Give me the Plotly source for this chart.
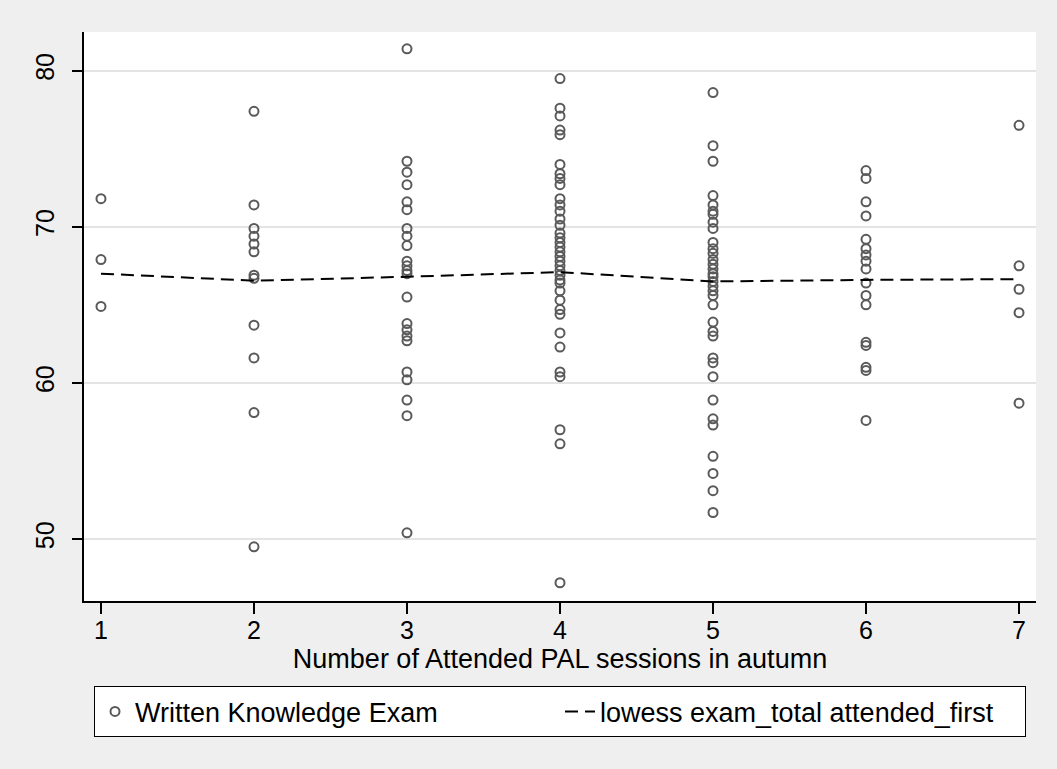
import plotly.graph_objects as go

# Sessions attended (x categories) and exam scores
sessions = [1, 2, 3, 4, 5, 6, 7]

scores_1 = [71.8, 67.9, 64.9]
scores_2 = [77.4, 71.4, 69.9, 69.4, 68.9, 68.4, 66.9, 66.7, 63.7, 61.6, 58.1, 49.5]
scores_3 = [81.4, 74.2, 73.5, 72.7, 71.6, 71.1, 69.9, 69.4, 68.8, 67.8, 67.5, 67.2,
            67.0, 65.5, 63.8, 63.4, 63.0, 62.7, 60.7, 60.2, 58.9, 57.9, 50.4]
scores_4 = [79.5, 77.6, 77.1, 76.2, 75.9, 74.0, 73.4, 73.1, 72.7, 71.8, 71.4, 71.0,
            70.5, 70.1, 69.6, 69.3, 69.0, 68.7, 68.4, 68.1, 67.8, 67.5, 67.2, 66.9,
            66.6, 66.4, 65.9, 65.3, 64.7, 64.4, 63.2, 62.3, 60.7, 60.4, 57.0, 56.1, 47.2]
scores_5 = [78.6, 75.2, 74.2, 72.0, 71.4, 71.0, 70.8, 70.3, 69.9, 69.0, 68.6, 68.3,
            67.9, 67.6, 67.3, 67.0, 66.8, 66.5, 66.2, 65.9, 65.6, 65.0, 63.9, 63.3,
            63.0, 61.6, 61.3, 60.4, 58.9, 57.7, 57.3, 55.3, 54.2, 53.1, 51.7]
scores_6 = [73.6, 73.1, 71.6, 70.7, 69.2, 68.6, 68.2, 67.8, 67.3, 66.4, 65.6, 65.0,
            62.6, 62.4, 61.0, 60.8, 57.6]
scores_7 = [76.5, 67.5, 66.0, 64.5, 58.7]

lowess_values = [67.0, 66.55, 66.8, 67.1, 66.5, 66.6, 66.65]

y_ticks = [50, 60, 70, 80]

columns = [scores_1, scores_2, scores_3, scores_4, scores_5, scores_6, scores_7]
xs, ys = [], []
for s, col in zip(sessions, columns):
    xs += [s] * len(col)
    ys += col

FONT = "Helvetica, Liberation Sans, Arial, sans-serif"
FS_TICK = 25
FS_TEXT = 27

fig = go.Figure()
fig.add_trace(go.Scatter(
    x=xs, y=ys, mode="markers", name="Written Knowledge Exam",
    marker=dict(symbol="circle-open", size=9, color="#5a5a5a",
                line=dict(width=2, color="#5a5a5a")),
))
fig.add_trace(go.Scatter(
    x=sessions, y=lowess_values, mode="lines",
    name="lowess exam_total attended_first",
    line=dict(color="black", width=2, dash="13px,7px"),
))

fig.update_layout(
    width=1057, height=769, autosize=False,
    paper_bgcolor="#efefef", plot_bgcolor="white",
    margin=dict(l=84, r=21, t=32, b=168),
    font=dict(family=FONT, size=FS_TEXT, color="black"),
    showlegend=True,
    legend=dict(
        orientation="h", x=0.5, xanchor="center", y=-0.15, yanchor="top",
        bgcolor="white", bordercolor="black", borderwidth=1,
        font=dict(family=FONT, size=FS_TEXT, color="black"),
        entrywidth=420, entrywidthmode="pixels", itemwidth=30,
    ),
    xaxis=dict(
        range=[0.889, 7.111], tickmode="array", tickvals=sessions,
        ticktext=[str(s) for s in sessions],
        showgrid=False, zeroline=False,
        showline=True, linecolor="black", linewidth=1.5,
        ticks="outside", ticklen=11, tickwidth=1.5, tickcolor="black",
        tickfont=dict(size=FS_TICK), ticklabelstandoff=-5,
        title=dict(text="Number of Attended PAL sessions in autumn",
                   font=dict(size=FS_TEXT), standoff=0),
    ),
    yaxis=dict(
        range=[46.03, 82.48], tickmode="array", tickvals=y_ticks,
        ticktext=[str(t) for t in y_ticks], tickangle=-90,
        showgrid=True, gridcolor="#e4e4e4", gridwidth=1.6, zeroline=False,
        showline=True, linecolor="black", linewidth=1.5,
        ticks="outside", ticklen=10, tickwidth=1.5, tickcolor="black",
        tickfont=dict(size=FS_TICK), ticklabelstandoff=8,
    ),
)

fig.write_html("out.html")
